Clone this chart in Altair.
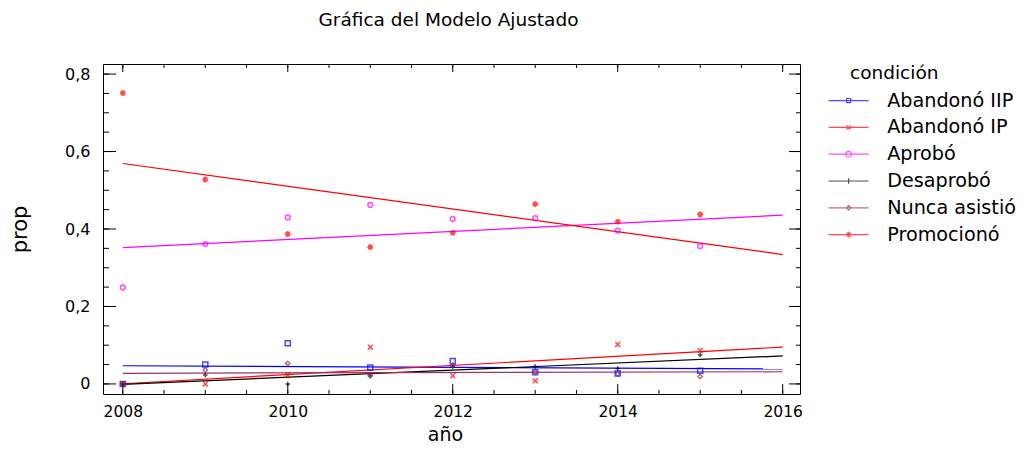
import altair as alt
import pandas as pd

# ---------------- data ----------------
years = [2008, 2009, 2010, 2011, 2012, 2013, 2014, 2015]
categories = ["Abandonó IIP", "Abandonó IP", "Aprobó", "Desaprobó", "Nunca asistió", "Promocionó"]
abandono_iip = [0.000, 0.050, 0.105, 0.042, 0.059, 0.030, 0.027, 0.034]
abandono_ip = [0.000, 0.000, 0.023, 0.095, 0.021, 0.008, 0.102, 0.086]
aprobo = [0.249, 0.361, 0.430, 0.462, 0.426, 0.428, 0.396, 0.356]
desaprobo = [0.000, 0.023, 0.000, 0.021, 0.045, 0.045, 0.040, 0.075]
nunca_asistio = [0.000, 0.036, 0.053, 0.021, 0.049, 0.030, 0.026, 0.019]
promociono = [0.751, 0.528, 0.387, 0.353, 0.390, 0.464, 0.419, 0.438]

x_tick_labels = [2008, 2010, 2012, 2014, 2016]
x_minor = [2008, 2008.5, 2009, 2009.5, 2010, 2010.5, 2011, 2011.5, 2012,
           2012.5, 2013, 2013.5, 2014, 2014.5, 2015, 2015.5, 2016]
y_tick_labels = [0.0, 0.2, 0.4, 0.6, 0.8]
y_minor = [0.0, 0.05, 0.1, 0.15, 0.2, 0.25, 0.3, 0.35, 0.4, 0.45, 0.5,
           0.55, 0.6, 0.65, 0.7, 0.75, 0.8]

chart_title = "Gráfica del Modelo Ajustado"
x_title = "año"
y_title = "prop"
legend_title = "condición"

# ---------------- styling ----------------
colors = ["#0000FF", "#FF0000", "#FF00FF", "#000000", "#993366", "#FF0000"]
point_shapes = [
    "square",
    "M-1,-1L1,1M-1,1L1,-1",
    "circle",
    "M-1,0H1M0,-1V1",
    "diamond",
    "M-1,-1L1,1M-1,1L1,-1M0,-1.4V1.4M-1.4,0H1.4",
]
point_sizes = [26, 18, 55, 30, 26, 26]
L = "M-2.86,0H2.86"
legend_shapes = [
    L + "M-0.3,-0.3H0.3V0.3H-0.3Z",
    L + "M-0.3,-0.3L0.3,0.3M-0.3,0.3L0.3,-0.3",
    L + "M-0.4,0A0.4,0.4 0 1,0 0.4,0A0.4,0.4 0 1,0 -0.4,0",
    L + "M0,-0.4V0.4",
    L + "M-0.35,0L0,-0.35L0.35,0L0,0.35Z",
    L + "M-0.3,-0.3L0.3,0.3M-0.3,0.3L0.3,-0.3M0,-0.4V0.4",
]
FONT = "DejaVu Sans"
W, H = 697, 330

series = [abandono_iip, abandono_ip, aprobo, desaprobo, nunca_asistio, promociono]
rows = []
for cat, vals in zip(categories, series):
    for yr, v in zip(years, vals):
        rows.append({"year": yr, "prop": v, "cond": cat})
df = pd.DataFrame(rows)

xscale = alt.Scale(domain=[2007.76, 2016.21], nice=False, zero=False)
yscale = alt.Scale(domain=[-0.026, 0.826], nice=False, zero=False)
cscale = alt.Scale(domain=categories, range=colors)

xaxis = alt.Axis(values=x_tick_labels, format="d", title=x_title, grid=False,
                 domain=False, ticks=False, labelPadding=10, labelFontSize=15.5,
                 titleX=342, titleY=46, titleBaseline="alphabetic", titleFontSize=19)
yaxis = alt.Axis(values=y_tick_labels, grid=False, domain=False, ticks=False,
                 labelPadding=13, title=y_title,
                 labelExpr="datum.value == 0 ? '0' : replace(format(datum.value, '.1f'), '.', ',')",
                 titleX=-83, titleY=165, titleBaseline="middle", titleAlign="center")

base = alt.Chart(df)

lines = base.transform_regression(
    "year", "prop", groupby=["cond"], extent=[2008, 2016]
).mark_line(strokeWidth=1.2).encode(
    x=alt.X("year:Q", scale=xscale, axis=xaxis),
    y=alt.Y("prop:Q", scale=yscale, axis=yaxis),
    color=alt.Color("cond:N", scale=cscale, legend=None),
    detail="cond:N",
)

points = base.mark_point(filled=False, strokeWidth=1.5).encode(
    x=alt.X("year:Q", scale=xscale),
    y=alt.Y("prop:Q", scale=yscale),
    color=alt.Color("cond:N", scale=cscale, legend=None),
    shape=alt.Shape("cond:N", scale=alt.Scale(domain=categories, range=point_shapes), legend=None),
    size=alt.Size("cond:N", scale=alt.Scale(domain=categories, range=point_sizes), legend=None),
)

leg = alt.Legend(
    title=None, orient="none", legendX=736, legendY=27,
    symbolSize=196, symbolStrokeWidth=1.2, labelFontSize=19.2,
    labelFont=FONT, labelColor="#000000", labelOffset=29, rowPadding=6.8,
    labelLimit=200,
)

legend_layer = base.transform_filter("false").mark_point(filled=False, strokeWidth=1.2).encode(
    x=alt.X("year:Q", scale=xscale),
    y=alt.Y("prop:Q", scale=yscale),
    color=alt.Color("cond:N", scale=alt.Scale(domain=categories, range=colors), legend=leg),
    shape=alt.Shape("cond:N", scale=alt.Scale(domain=categories, range=legend_shapes), legend=leg),
)

ticks_x_major = pd.DataFrame({"year": x_tick_labels})
ticks_x_minor = pd.DataFrame({"year": x_minor})
ticks_y_major = pd.DataFrame({"prop": y_tick_labels})
ticks_y_minor = pd.DataFrame({"prop": y_minor})


def xticks(d, y0, y1):
    return alt.Chart(d).mark_rule(color="#000000", strokeWidth=1).encode(
        x=alt.X("year:Q", scale=xscale), y=alt.value(y0), y2=alt.value(y1))


def yticks(d, x0, x1):
    return alt.Chart(d).mark_rule(color="#000000", strokeWidth=1).encode(
        y=alt.Y("prop:Q", scale=yscale), x=alt.value(x0), x2=alt.value(x1))


tick_layers = [
    xticks(ticks_x_major, 0, 8), xticks(ticks_x_major, H, H - 10),
    xticks(ticks_x_minor, 0, 4), xticks(ticks_x_minor, H, H - 4),
    yticks(ticks_y_major, 0, 13), yticks(ticks_y_major, W, W - 11),
    yticks(ticks_y_minor, 0, 6), yticks(ticks_y_minor, W, W - 4),
]

legend_title_mark = alt.Chart(pd.DataFrame({"t": [legend_title]})).mark_text(
    align="left", baseline="middle", font=FONT, fontSize=18.5, color="#000000"
).encode(text="t:N", x=alt.value(747), y=alt.value(9))

chart = alt.layer(
    lines, points, legend_layer, *tick_layers, legend_title_mark
).resolve_scale(
    color="independent", shape="independent"
).properties(
    width=W, height=H,
    title=alt.TitleParams(chart_title, font=FONT, fontSize=18.5, fontWeight="normal",
                          anchor="middle", offset=34, color="#000000", dx=-3),
    padding={"left": 95, "top": 56, "right": 217, "bottom": 51},
    autosize=alt.AutoSizeParams(type="none"),
).configure_axis(
    labelFont=FONT, labelFontSize=16, labelColor="#000000",
    titleFont=FONT, titleFontSize=21, titleFontWeight="normal", titleColor="#000000",
).configure_view(
    stroke="#000000", strokeWidth=1
)

chart.save("out.html", embed_options={"renderer": "svg", "actions": False})
